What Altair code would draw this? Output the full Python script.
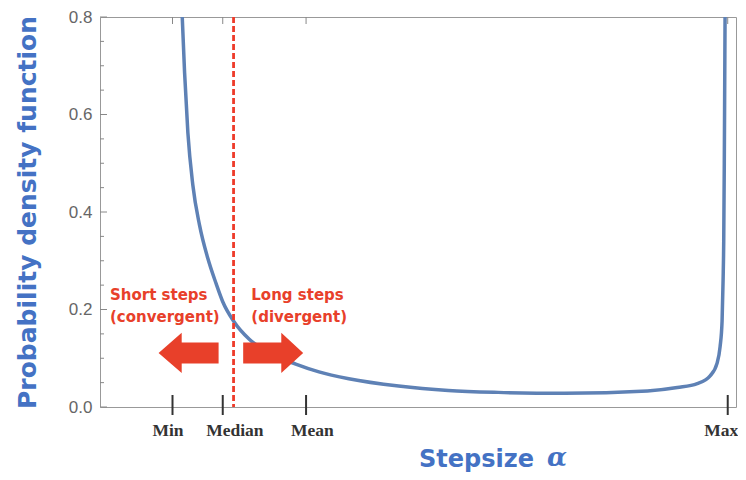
import altair as alt
import pandas as pd

# ---- data (x in arbitrary step-size units on a 0..10 axis) ----
curve_x = [1.293, 1.330, 1.382, 1.460, 1.565, 1.695, 1.826, 1.930, 2.102, 2.347,
           2.660, 3.078, 3.443, 3.912, 4.695, 5.477, 6.260, 7.308, 8.607, 9.077,
           9.390, 9.593, 9.703, 9.750, 9.781, 9.797, 9.807, 9.816, 9.822, 9.828]
curve_y = [0.800, 0.686, 0.562, 0.455, 0.373, 0.305, 0.253, 0.216, 0.176, 0.139,
           0.111, 0.088, 0.072, 0.058, 0.043, 0.034, 0.030, 0.028, 0.033, 0.040,
           0.048, 0.064, 0.090, 0.124, 0.176, 0.260, 0.340, 0.500, 0.650, 0.800]

# tick positions and the (hand-placed) label positions below them
tick_x = [1.14, 1.93, 3.24, 9.87]
label_names = ["Min", "Median", "Mean", "Max"]
label_x = [1.07, 2.12, 3.34, 9.77]

split_x = [2.10]

arrow_dir = ["left", "right"]
arrow_x = [1.393, 2.723]
arrow_y = [0.111, 0.111]

note_text = ["Short steps", "(convergent)", "Long steps", "(divergent)"]
note_x = [0.157, 0.157, 2.379, 2.379]
note_y = [0.230, 0.184, 0.230, 0.184]

y_major = [0.0, 0.2, 0.4, 0.6, 0.8]
y_minor = [0.05, 0.10, 0.15, 0.25, 0.30, 0.35, 0.45, 0.50, 0.55, 0.65, 0.70, 0.75]

BLUE_TITLE = "#4472C4"
CURVE = "#5E81B5"
RED = "#E8402A"
GRAY = "#999999"

curve_df = pd.DataFrame({"x": curve_x, "y": curve_y, "i": range(len(curve_x))})
ticks_df = pd.DataFrame({"x": tick_x})
labels_df = pd.DataFrame({"x": label_x, "label": label_names})
split_df = pd.DataFrame({"x": split_x})
arrow_df = pd.DataFrame({"x": arrow_x, "y": arrow_y, "dir": arrow_dir})
note_df = pd.DataFrame({"x": note_x, "y": note_y, "text": note_text})
major_df = pd.DataFrame({"y": y_major})
minor_df = pd.DataFrame({"y": y_minor})

xscale = alt.Scale(domain=[0, 10], nice=False, zero=False)
yscale = alt.Scale(domain=[0, 0.8], nice=False)

xaxis = alt.Axis(title="Stepsize", labels=False, ticks=False, domain=False, grid=False,
                 titleX=376, titleY=59, titleBaseline="alphabetic", titleAlign="center",
                 titleFont="DejaVu Sans", titleFontSize=24, titleFontWeight="bold",
                 titleColor=BLUE_TITLE)
yaxis = alt.Axis(title="Probability density function", values=y_major, format=".1f",
                 ticks=False, domain=False, grid=False, labelPadding=8,
                 labelFont="Liberation Sans", labelFontSize=17, labelColor="#666666",
                 titleFont="DejaVu Sans", titleFontSize=25, titleFontWeight="bold",
                 titleColor=BLUE_TITLE, titlePadding=28)

X = lambda: alt.X("x:Q", scale=xscale, axis=xaxis)
Y = lambda: alt.Y("y:Q", scale=yscale, axis=yaxis)

curve = alt.Chart(curve_df).mark_line(color=CURVE, strokeWidth=3.5, clip=True,
                                      interpolate="monotone").encode(
    x=X(), y=Y(), order="i:Q")

split = alt.Chart(split_df).mark_rule(color="#EE3B2A", strokeWidth=2.8,
                                      strokeDash=[6, 3]).encode(x=X())

left_path = "M-1,0L-0.23,-0.67L-0.23,-0.35L1,-0.35L1,0.35L-0.23,0.35L-0.23,0.67Z"
right_path = "M1,0L0.27,-0.67L0.27,-0.35L-1,-0.35L-1,0.35L0.27,0.35L0.27,0.67Z"
arrows = alt.Chart(arrow_df).mark_point(filled=True, size=3600, opacity=1,
                                        color=RED, strokeWidth=0).encode(
    x=X(), y=Y(),
    shape=alt.Shape("dir:N", scale=alt.Scale(domain=["left", "right"],
                                              range=[left_path, right_path]),
                    legend=None))

notes = alt.Chart(note_df).mark_text(align="left", baseline="middle", font="DejaVu Sans",
                                     fontSize=15, fontWeight="bold", color=RED).encode(
    x=X(), y=Y(), text="text:N")

bottom_ticks = alt.Chart(ticks_df).mark_rule(color="#333333", strokeWidth=2).encode(
    x=X(), y=alt.value(378), y2=alt.value(398))
top_ticks = alt.Chart(ticks_df).mark_rule(color="#888888", strokeWidth=1).encode(
    x=X(), y=alt.value(0), y2=alt.value(7))
tick_labels = alt.Chart(labels_df).mark_text(
    font="Liberation Serif", fontSize=17.5, fontWeight="bold",
    color="#333333", baseline="alphabetic").encode(
    x=X(), y=alt.value(419), text="label:N")

major_ticks = alt.Chart(major_df).mark_rule(color="#888888", strokeWidth=1).encode(
    y=Y(), x=alt.value(0), x2=alt.value(7))
minor_ticks = alt.Chart(minor_df).mark_rule(color="#888888", strokeWidth=1).encode(
    y=Y(), x=alt.value(0), x2=alt.value(4))

alpha = alt.Chart(pd.DataFrame({"t": ["α"]})).mark_text(
    font="DejaVu Serif", fontSize=26, fontWeight="bold", fontStyle="italic",
    color=BLUE_TITLE, align="left", baseline="alphabetic").encode(
    x=alt.value(447), y=alt.value(449), text="t:N")

chart = alt.layer(
    major_ticks, minor_ticks, top_ticks, curve, split, arrows, notes,
    bottom_ticks, tick_labels, alpha
).properties(
    width=636, height=390,
    padding={"left": 92, "top": 9, "right": 2, "bottom": 65},
    autosize=alt.AutoSizeParams(type="none"),
).configure_view(stroke=GRAY, strokeWidth=1).configure_axis(grid=False)

chart.save("out.html", embed_options={"renderer": "svg", "actions": False})
